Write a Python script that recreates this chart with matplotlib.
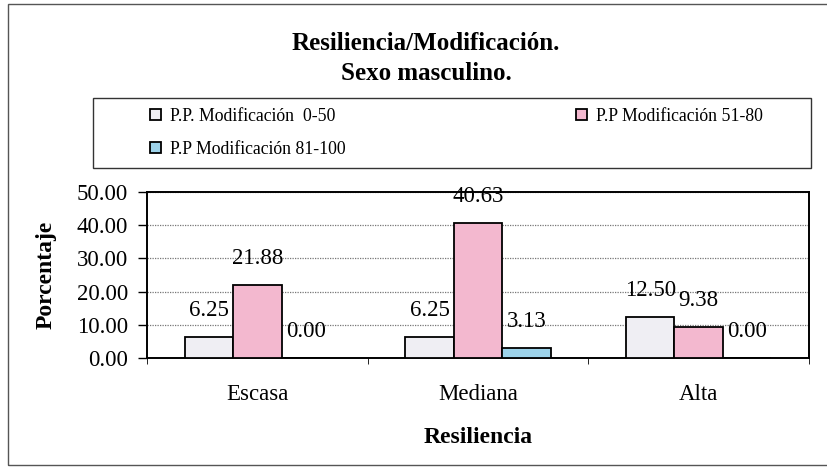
import matplotlib
matplotlib.use("Agg")
import matplotlib.pyplot as plt
import numpy as np
from matplotlib.patches import Rectangle

categories = ["Escasa", "Mediana", "Alta"]
series_names = ["P.P. Modificación  0-50", "P.P Modificación 51-80", "P.P Modificación 81-100"]
mod_0_50 = [6.25, 6.25, 12.50]
mod_51_80 = [21.88, 40.63, 9.38]
mod_81_100 = [0.00, 3.13, 0.00]
yticks = [0, 10, 20, 30, 40, 50]

colors = ["#efeef3", "#f3b8cf", "#9dd3ea"]

plt.rcParams["font.family"] = ["Liberation Serif", "DejaVu Serif"]

W, H = 828, 467
fig = plt.figure(figsize=(W / 100, H / 100), dpi=100)
# plot area in pixels: x 147..809, y 192..358
ax = fig.add_axes([147 / W, 1 - 358 / H, (809 - 147) / W, (358 - 192) / H])

x = np.arange(len(categories))
w = 0.22
bars = []
for i, vals in enumerate([mod_0_50, mod_51_80, mod_81_100]):
    b = ax.bar(x + (i - 1) * w, vals, w, color=colors[i], edgecolor="black",
               linewidth=1.3, label=series_names[i], zorder=3)
    bars.append(b)
    for xi, v in zip(x + (i - 1) * w, vals):
        ax.annotate(f"{v:.2f}", (xi, v), xytext=(0, 19), textcoords="offset points",
                    ha="center", va="center", fontsize=16.5, zorder=4)

ax.set_xlim(-0.5, 2.5)
ax.set_ylim(0, 50)
ax.set_yticks(yticks)
ax.set_yticklabels([f"{t:.2f}" for t in yticks], fontsize=16.5)
ax.set_xticks(x)
ax.set_xticklabels(categories, fontsize=16.5)
ax.tick_params(axis="x", length=0, pad=19)
ax.tick_params(axis="y", length=6.5, width=1, direction="out", pad=7)
# category separators on the x axis
ax.set_xticks([-0.5, 0.5, 1.5, 2.5], minor=True)
ax.tick_params(axis="x", which="minor", length=4, direction="out")
ax.yaxis.grid(True, linestyle=(0, (1, 1)), color="#777777", linewidth=0.9, zorder=0)
for s in ax.spines.values():
    s.set_linewidth(1.4)
    s.set_color("black")

ax.set_ylabel("Porcentaje", fontsize=17, fontweight="bold")
ax.yaxis.set_label_coords(-0.137, 0.5)
ax.set_xlabel("Resiliencia", fontsize=17, fontweight="bold")
ax.xaxis.set_label_coords(0.5, -0.415)

fig.text(426 / W, 1 - 43 / H, "Resiliencia/Modificación.", ha="center", va="center",
         fontsize=18, fontweight="bold")
fig.text(426 / W, 1 - 73 / H, "Sexo masculino.", ha="center", va="center",
         fontsize=18, fontweight="bold")

# legend frame
fig.patches.append(Rectangle((93 / W, 1 - 168 / H), (811 - 93) / W, 70 / H,
                             transform=fig.transFigure, fill=False,
                             edgecolor="#333333", linewidth=1.0))
handles = [bars[0], bars[2], bars[1]]
labels = [series_names[0], series_names[2], series_names[1]]
leg = fig.legend(handles, labels, ncol=2, loc="upper left",
                 bbox_to_anchor=(150 / W, 1 - 108 / H), borderpad=0, borderaxespad=0,
                 fontsize=12.8, frameon=False, handlelength=0.6, handleheight=0.6,
                 handletextpad=0.5, labelspacing=0.9, columnspacing=13.0)

# outer chart border (right edge falls outside the picture)
fig.patches.append(Rectangle((8 / W, 2 / H), 830 / W, 461 / H, transform=fig.transFigure,
                             fill=False, edgecolor="#555555", linewidth=1.0))

fig.savefig("out.png", dpi=100)
